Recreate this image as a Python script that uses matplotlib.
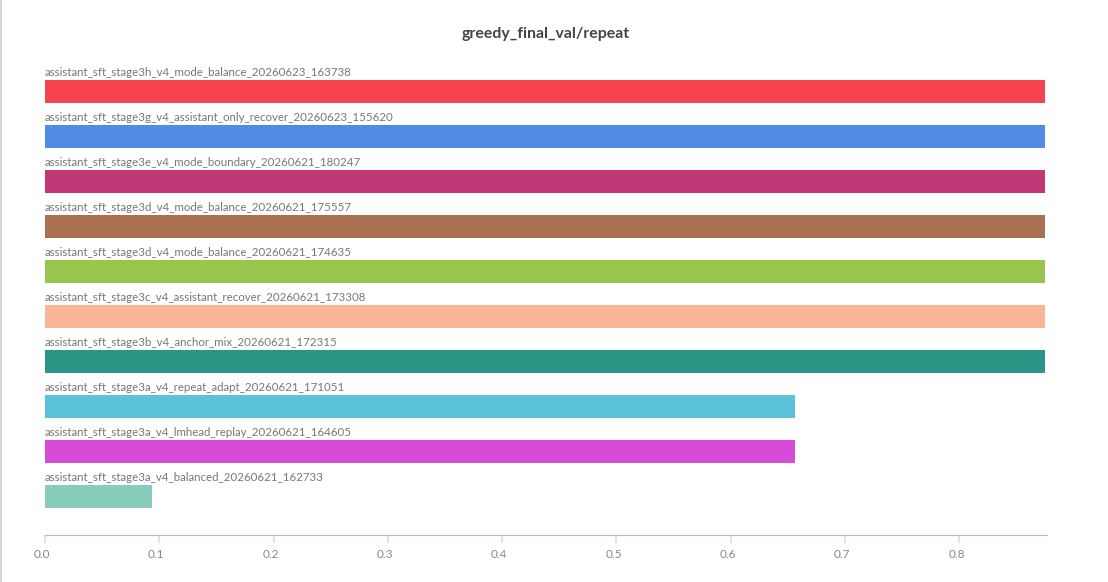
import matplotlib.pyplot as plt
from matplotlib.transforms import ScaledTranslation

runs = [
    "assistant_sft_stage3h_v4_mode_balance_20260623_163738",
    "assistant_sft_stage3g_v4_assistant_only_recover_20260623_155620",
    "assistant_sft_stage3e_v4_mode_boundary_20260621_180247",
    "assistant_sft_stage3d_v4_mode_balance_20260621_175557",
    "assistant_sft_stage3d_v4_mode_balance_20260621_174635",
    "assistant_sft_stage3c_v4_assistant_recover_20260621_173308",
    "assistant_sft_stage3b_v4_anchor_mix_20260621_172315",
    "assistant_sft_stage3a_v4_repeat_adapt_20260621_171051",
    "assistant_sft_stage3a_v4_lmhead_replay_20260621_164605",
    "assistant_sft_stage3a_v4_balanced_20260621_162733",
]
repeat = [0.875, 0.875, 0.875, 0.875, 0.875, 0.875, 0.875, 0.65625, 0.65625, 0.09375]
colors = ['#F5434F', '#528BE3', '#C13674', '#A97052', '#98C54E',
          '#FBB697', '#2A9485', '#5BC3D9', '#D84BDA', '#87CCBC']
ticks = [0.0, 0.1, 0.2, 0.3, 0.4, 0.5, 0.6, 0.7, 0.8]

W, H = 1108, 582
fig = plt.figure(figsize=(W / 100, H / 100), dpi=100)
ax = fig.add_axes([45 / W, (H - 535) / H, (1046.7 - 45) / W, (535 - 60) / H])

bar_h = 0.51
pos = list(range(len(runs)))
ax.barh(pos, repeat, height=bar_h, color=colors)
for p, name in zip(pos, runs):
    ax.text(0, p - bar_h / 2 - 0.08, name, fontsize=8.25, color='#777777',
            family='Lato', va='baseline', ha='left')

ax.set_xlim(0, 0.8764)
ax.set_ylim(9.856, -0.7)
ax.set_yticks([])
ax.set_xticks(ticks)
ax.set_xticklabels([f"{t:.1f}" for t in ticks], fontsize=8.5, color='#888888', family='Lato')
ax.tick_params(axis='x', length=6, width=1.5, color='#e3e3e3', pad=4)
shift = ScaledTranslation(-3 / 100, 0, fig.dpi_scale_trans)
for lab in ax.get_xticklabels():
    lab.set_transform(lab.get_transform() + shift)
for s in ['top', 'right', 'left']:
    ax.spines[s].set_visible(False)
ax.spines['bottom'].set_color('#bbbbbb')

fig.text(545.5 / W, 1 - 34 / H, "greedy_final_val/repeat", fontsize=11.4,
         fontweight='bold', color='#444444', family='Lato', ha='center', va='center')

# left frame edge of the panel
fig.add_artist(plt.Line2D([1.2 / W, 1.2 / W], [0, 1], color='#cccccc', lw=1.2))

fig.savefig('out.png', dpi=100)
